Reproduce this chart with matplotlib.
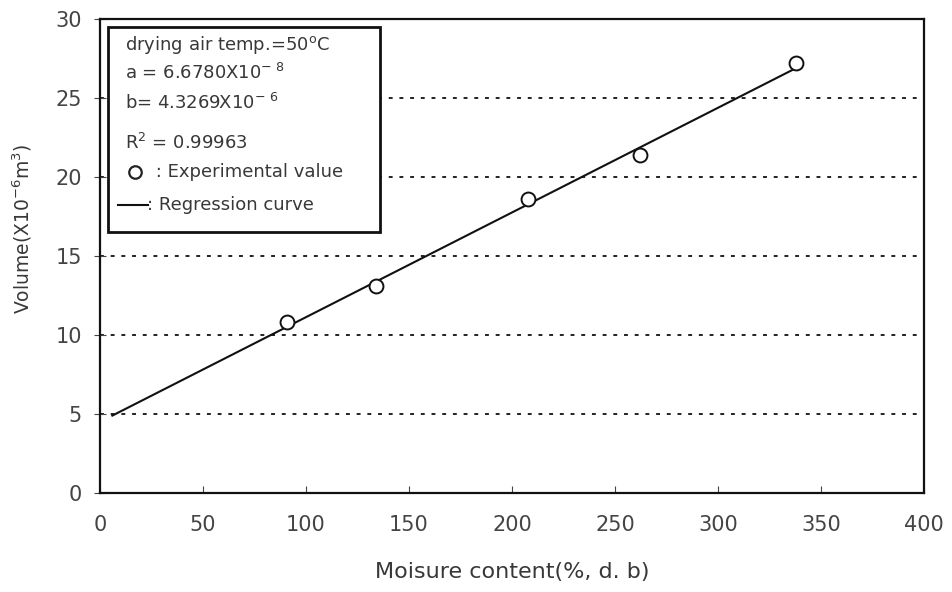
import matplotlib
matplotlib.use("Agg")
import matplotlib.pyplot as plt
from matplotlib.patches import Rectangle
from matplotlib.lines import Line2D

plt.rcParams['font.family'] = ['DejaVu Sans']
plt.rcParams['mathtext.fontset'] = 'dejavusans'

# Data
moisture = [91, 134, 208, 262, 338]
volume = [10.8, 13.1, 18.6, 21.4, 27.2]
reg_x = [6, 338]
reg_y = [4.9, 26.9]
xticks = [0, 50, 100, 150, 200, 250, 300, 350, 400]
yticks = [0, 5, 10, 15, 20, 25, 30]
grid_levels = [5, 10, 15, 20, 25, 30]

legend_lines = [
    r"drying air temp.=50$^{\mathrm{o}}$C",
    r"a = 6.6780X10$^{-\ 8}$",
    r"b= 4.3269X10$^{-\ 6}$",
    r"R$^{2}$ = 0.99963",
]

fig = plt.figure(figsize=(9.52, 5.92), dpi=100)
ax = fig.add_axes([100/952, 99/592, 824/952, 474/592])

txt = '#383838'
for g in grid_levels:
    ax.axhline(g, color='#222222', linestyle=(0, (2, 3.5)), linewidth=1.4, zorder=1)

ax.plot(reg_x, reg_y, color='#111111', linewidth=1.5, zorder=3)
ax.plot(moisture, volume, linestyle='none', marker='o', markersize=10,
        markerfacecolor='white', markeredgecolor='#111111', markeredgewidth=1.4, zorder=4)

ax.set_xlim(0, 400)
ax.set_ylim(0, 30)
ax.set_xticks(xticks)
ax.set_yticks(yticks)
ax.tick_params(axis='x', direction='in', length=5, labelsize=15, colors='#444444', pad=16)
ax.tick_params(axis='y', direction='inout', length=8, labelsize=15, colors='#444444', pad=9)
for sp in ax.spines.values():
    sp.set_linewidth(1.6)
    sp.set_color('#111111')

ax.set_xlabel("Moisure content(%, d. b)", fontsize=16, color=txt, labelpad=19)
ax.set_ylabel(r"Volume(X10$^{-6}$m$^{3}$)", fontsize=13.5, color=txt)
ax.yaxis.set_label_coords(-0.08, 0.557)

# Legend box
x0 = 8/824
y0 = (493-232)/474
w = (380-108)/824
h = (232-27)/474
rect = Rectangle((x0, y0), w, h, transform=ax.transAxes, facecolor='white',
                 edgecolor='#111111', linewidth=2.0, zorder=5)
ax.add_patch(rect)

ys_px = [45, 73, 103, 143]
for s, yp in zip(legend_lines, ys_px):
    ax.text(25/824, (493-yp)/474, s, transform=ax.transAxes, fontsize=13,
            color=txt, va='center', ha='left', zorder=6)

yp = 172
ax.add_line(Line2D([35/824], [(493-yp)/474], transform=ax.transAxes, marker='o',
                   markersize=9, markerfacecolor='white', markeredgecolor='#222222',
                   markeredgewidth=1.6, linestyle='none', zorder=6))
ax.text(50/824, (493-yp)/474, " : Experimental value", transform=ax.transAxes,
        fontsize=13, color=txt, va='center', ha='left', zorder=6)
yp = 205
ax.add_line(Line2D([18/824, 48/824], [(493-yp)/474]*2, transform=ax.transAxes,
                   color='#111111', linewidth=1.5, zorder=6))
ax.text(47/824, (493-yp)/474, ": Regression curve", transform=ax.transAxes,
        fontsize=13, color=txt, va='center', ha='left', zorder=6)

fig.savefig("out.png", dpi=100, facecolor='white')
